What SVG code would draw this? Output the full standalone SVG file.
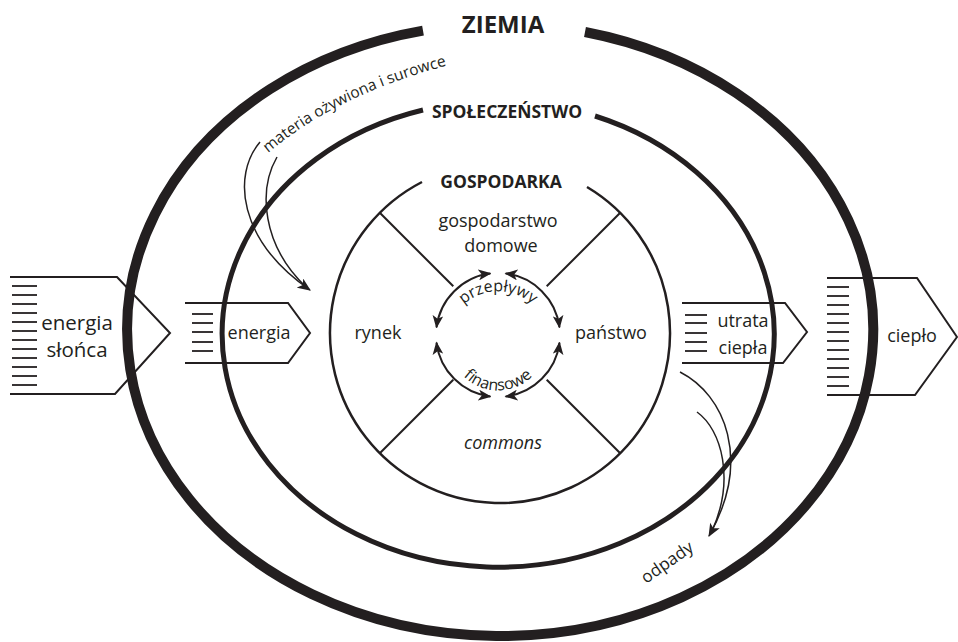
<svg xmlns="http://www.w3.org/2000/svg" width="958" height="642" viewBox="0 0 958 642">
<defs>
<style>
text{font-family:"Open Sans","Liberation Sans",sans-serif;fill:#231f20}
.t18{font-size:18px}
.b{font-weight:bold}
.ln{fill:none;stroke:#231f20;stroke-width:2}
.hatch{stroke:#231f20;stroke-width:1.8}
.thin{fill:none;stroke:#231f20;stroke-width:1.5}
.ring{fill:none;stroke:#231f20;stroke-width:2}
</style>
<marker id="ah" viewBox="0 0 12 10" refX="11" refY="5" markerWidth="14" markerHeight="11" markerUnits="userSpaceOnUse" orient="auto-start-reverse"><path d="M0,0 L12,5 L0,10 L3,5 z" fill="#231f20"/></marker>
<marker id="ar" viewBox="0 0 12 10" refX="11" refY="5" markerWidth="13" markerHeight="11" markerUnits="userSpaceOnUse" orient="auto-start-reverse"><path d="M0,0 L12,5 L0,10 L3,5 z" fill="#231f20"/></marker>
<path id="tp1" d="M 452 319 A 52 52 0 0 1 544 319"/>
<path id="tp2" d="M 454 363 A 49 49 0 0 0 542 363"/>
<path id="tp3" d="M 268 153 Q 345 88 470 60"/>
</defs>
<rect width="958" height="642" fill="#ffffff"/>

<g id="energia-sloneczna">
<path class="ln" d="M10 277 H117 L170 333 L115 394 H10"/>
<g class="hatch">
<line x1="12" y1="286" x2="37" y2="286"/><line x1="12" y1="295" x2="37" y2="295"/><line x1="12" y1="304" x2="37" y2="304"/><line x1="12" y1="313" x2="37" y2="313"/><line x1="12" y1="322" x2="37" y2="322"/><line x1="12" y1="331" x2="37" y2="331"/><line x1="12" y1="340" x2="37" y2="340"/><line x1="12" y1="349" x2="37" y2="349"/><line x1="12" y1="358" x2="37" y2="358"/><line x1="12" y1="367" x2="37" y2="367"/><line x1="12" y1="376" x2="37" y2="376"/><line x1="12" y1="385" x2="37" y2="385"/>
</g>
<text x="77" y="330" font-size="20.5" text-anchor="middle">energia</text>
<text x="77" y="357" font-size="20.5" text-anchor="middle">słońca</text>
</g>

<g id="energia">
<path class="ln" d="M185 303 H288 L310 333 L288 363 H185"/>
<g class="hatch">
<line x1="192" y1="314" x2="213" y2="314"/><line x1="192" y1="323" x2="213" y2="323"/><line x1="192" y1="332" x2="213" y2="332"/><line x1="192" y1="342" x2="213" y2="342"/><line x1="192" y1="351" x2="213" y2="351"/>
</g>
<text x="259" y="339" class="t18" text-anchor="middle">energia</text>
</g>

<g id="utrata-ciepla">
<path class="ln" d="M682 303 H785 L807 332 L783 363 H682"/>
<g class="hatch">
<line x1="685" y1="315" x2="707" y2="315"/><line x1="685" y1="323" x2="707" y2="323"/><line x1="685" y1="333" x2="707" y2="333"/><line x1="685" y1="342" x2="707" y2="342"/><line x1="685" y1="351" x2="707" y2="351"/>
</g>
<text x="743" y="327" class="t18" text-anchor="middle">utrata</text>
<text x="743" y="354" class="t18" text-anchor="middle">ciepła</text>
</g>

<g id="cieplo">
<path class="ln" d="M827 278 H917 L957 337 L915 395 H827"/>
<g class="hatch">
<line x1="827" y1="287" x2="849" y2="287"/><line x1="827" y1="296" x2="849" y2="296"/><line x1="827" y1="305" x2="849" y2="305"/><line x1="827" y1="314" x2="849" y2="314"/><line x1="827" y1="323" x2="849" y2="323"/><line x1="827" y1="332" x2="849" y2="332"/><line x1="827" y1="341" x2="849" y2="341"/><line x1="827" y1="350" x2="849" y2="350"/><line x1="827" y1="359" x2="849" y2="359"/><line x1="827" y1="368" x2="849" y2="368"/><line x1="827" y1="377" x2="849" y2="377"/><line x1="827" y1="386" x2="849" y2="386"/>
</g>
<text x="912" y="342" font-size="18" text-anchor="middle">ciepło</text>
</g>

<g id="ziemia">
<path d="M423 30.6 A373 306 0 1 0 585 32" fill="none" stroke="#231f20" stroke-width="10"/>
<text x="503" y="33" font-size="24" class="b" text-anchor="middle">ZIEMIA</text>
</g>

<g id="spoleczenstwo">
<path d="M423 110 A276 233 0 1 0 595 116" fill="none" stroke="#231f20" stroke-width="5"/>
<text x="507" y="118" font-size="17.5" class="b" text-anchor="middle">SPOŁECZEŃSTWO</text>
</g>

<g id="gospodarka">
<path d="M422 182 A170 170 0 1 0 587 187" fill="none" stroke="#231f20" stroke-width="2.5"/>
<text x="501" y="188" font-size="17.5" class="b" text-anchor="middle">GOSPODARKA</text>
<g class="ln">
<line x1="379.8" y1="212.8" x2="453.3" y2="286.3"/>
<line x1="620.2" y1="212.8" x2="546.7" y2="286.3"/>
<line x1="379.8" y1="453.2" x2="453.3" y2="379.7"/>
<line x1="620.2" y1="453.2" x2="546.7" y2="379.7"/>
</g>
</g>

<g id="gospodarstwo-domowe">
<text x="498" y="227" class="t18" text-anchor="middle">gospodarstwo</text>
<text x="501" y="252" class="t18" text-anchor="middle">domowe</text>
</g>
<g id="rynek"><text x="378" y="339" class="t18" text-anchor="middle">rynek</text></g>
<g id="panstwo"><text x="611" y="339" class="t18" text-anchor="middle">państwo</text></g>
<g id="commons"><text x="503" y="449" class="t18" font-style="italic" text-anchor="middle">commons</text></g>

<g id="przeplywy-finansowe">
<text font-size="16"><textPath href="#tp1" startOffset="50%" text-anchor="middle">przepływy</textPath></text>
<text font-size="16"><textPath href="#tp2" startOffset="50%" text-anchor="middle">finansowe</textPath></text>
</g>

<g id="materia-label">
<text font-size="15.5"><textPath href="#tp3">materia ożywiona i surowce</textPath></text>
</g>
<g id="odpady-label">
<text x="667" y="568" font-size="17" text-anchor="middle" transform="rotate(-35 667 562)">odpady</text>
</g>

<g id="connectors">
<path class="ring" d="M490.4 273.5 A62 62 0 0 0 436.5 327.4" marker-start="url(#ar)" marker-end="url(#ar)"/>
<path class="ring" d="M505.6 273.5 A62 62 0 0 1 559.5 327.4" marker-start="url(#ar)" marker-end="url(#ar)"/>
<path class="ring" d="M559.5 342.6 A62 62 0 0 1 505.6 396.5" marker-start="url(#ar)" marker-end="url(#ar)"/>
<path class="ring" d="M490.4 396.5 A62 62 0 0 1 436.5 342.6" marker-start="url(#ar)" marker-end="url(#ar)"/>
<path class="thin" d="M260 142 C232 175 238 240 310 290" marker-end="url(#ah)"/>
<path class="thin" d="M277 157 C258 190 262 245 306 287"/>
<path class="thin" d="M680 372 C725 395 752 460 709 536" marker-end="url(#ah)"/>
<path class="thin" d="M697 412 C722 430 735 480 712 531"/>
</g>
</svg>
